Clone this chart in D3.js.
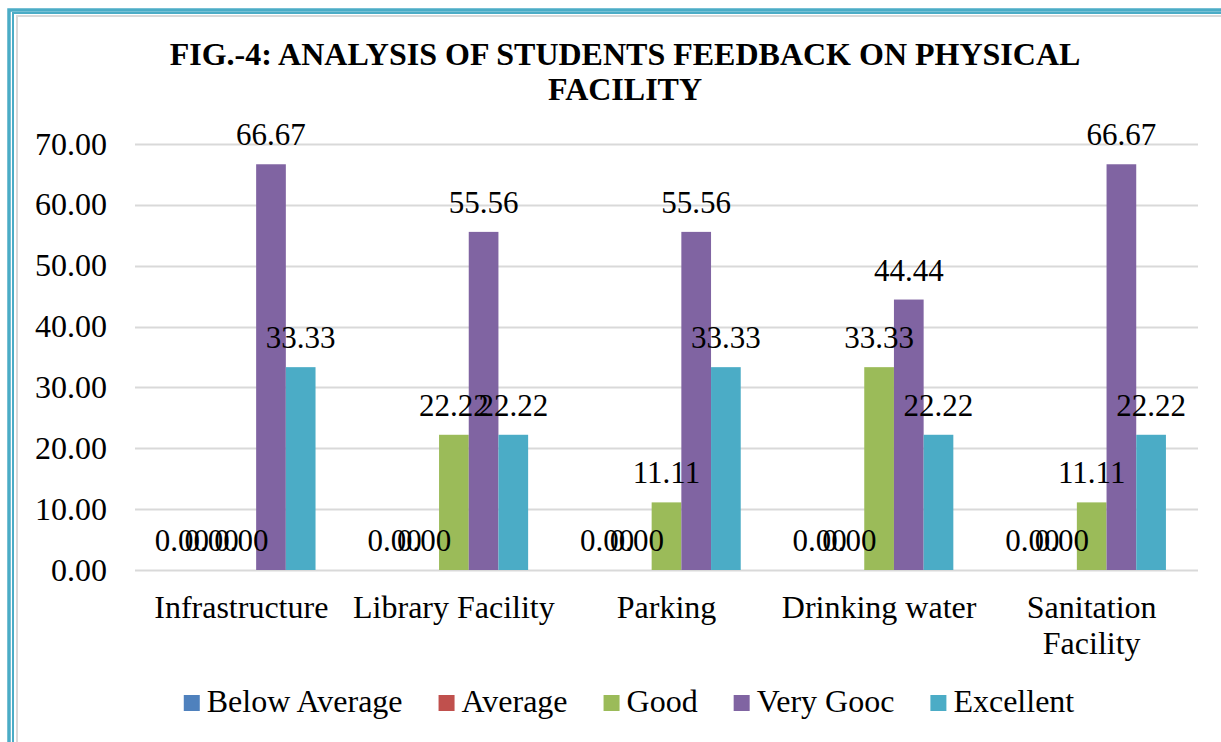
<!DOCTYPE html>
<html><head><meta charset="utf-8">
<script src="https://cdn.jsdelivr.net/npm/d3@7"></script>
<style>
html,body{margin:0;padding:0;background:#fff;overflow:hidden;}
svg{display:block;font-family:"Liberation Serif","Times New Roman",serif;}
</style></head>
<body>
<svg id="chart" width="1221" height="742"></svg>
<script>
const categories = ["Infrastructure", "Library Facility", "Parking", "Drinking water", "Sanitation Facility"];
const seriesNames = ["Below Average", "Average", "Good", "Very Gooc", "Excellent"];
const seriesColors = ["#4F81BD", "#C0504D", "#9BBB59", "#8064A2", "#4BACC6"];
const belowAverage = [0, 0, 0, 0, 0];
const average = [0, 0, 0, 0, 0];
const good = [0, 22.22, 11.11, 33.33, 11.11];
const veryGood = [66.67, 55.56, 55.56, 44.44, 66.67];
const excellent = [33.33, 22.22, 33.33, 22.22, 22.22];
const yTicks = [0, 10, 20, 30, 40, 50, 60, 70];
const titleLines = ["FIG.-4: ANALYSIS OF STUDENTS FEEDBACK ON PHYSICAL", "FACILITY"];

const seriesValues = [belowAverage, average, good, veryGood, excellent];

const svg = d3.select("#chart");
const FONT = 32;
const SERIF = "Liberation Serif, Times New Roman, serif";

// page border (double teal + light gray)
svg.append("path").attr("d","M9,760 V10 H1240").attr("fill","none").attr("stroke","#4BACC6").attr("stroke-width",3.5);
svg.append("path").attr("d","M13,760 V13 H1240").attr("fill","none").attr("stroke","#4BACC6").attr("stroke-width",2);
svg.append("path").attr("d","M17,760 V16 H1240").attr("fill","none").attr("stroke","#d9d9d9").attr("stroke-width",2);

// title
svg.append("g").selectAll("text").data(titleLines).join("text")
  .attr("x", 625).attr("y", (d,i)=> 65 + i*35)
  .attr("text-anchor","middle").attr("font-weight","bold").attr("font-size",32)
  .attr("fill","#000").text(d=>d);

const x0 = d3.scaleBand().domain(categories).range([135, 1198]).padding(0);
const x1 = d3.scaleBand().domain(seriesNames).range([0, x0.bandwidth()]).paddingInner(0).paddingOuter(1.08);
const y = d3.scaleLinear().domain([0, 70]).range([570, 144]);

// gridlines
svg.append("g").selectAll("line").data(yTicks).join("line")
  .attr("x1", 135).attr("x2", 1198)
  .attr("y1", d=>Math.round(y(d))+0.5).attr("y2", d=>Math.round(y(d))+0.5)
  .attr("stroke","#d9d9d9").attr("stroke-width",2);

// y axis labels
const yAxis = d3.axisLeft(y).tickValues(yTicks).tickFormat(d3.format(".2f")).tickSize(0).tickPadding(0);
const ya = svg.append("g").attr("transform","translate(107,0)").call(yAxis);
ya.select(".domain").remove();
ya.attr("font-family", SERIF).attr("font-size", FONT);
ya.selectAll("text").attr("font-size",FONT).attr("font-family",SERIF)
  .attr("fill","#000").attr("dy",null).attr("y",10);

// bars
const rows = categories.map((c,ci)=> seriesNames.map((s,si)=>({cat:c, ser:s, si, v:seriesValues[si][ci]})));
const groups = svg.append("g").selectAll("g").data(rows).join("g")
  .attr("transform", (d,i)=>`translate(${x0(categories[i])},0)`);
groups.selectAll("rect").data(d=>d).join("rect")
  .attr("x", d=>x1(d.ser)).attr("width", x1.bandwidth())
  .attr("y", d=>y(d.v)).attr("height", d=>y(0)-y(d.v))
  .attr("fill", d=>seriesColors[d.si]);
groups.selectAll("text").data(d=>d).join("text")
  .attr("x", d=>x1(d.ser)+x1.bandwidth()/2)
  .attr("y", d=>y(d.v)-19)
  .attr("text-anchor","middle").attr("font-size",31).attr("fill","#000")
  .text(d=>d3.format(".2f")(d.v));

// category labels
const catG = svg.append("g").selectAll("text").data(categories).join("text")
  .attr("x", d=>x0(d)+x0.bandwidth()/2).attr("y", 618)
  .attr("text-anchor","middle").attr("font-size",FONT).attr("fill","#000");
catG.each(function(d){
  const t = d3.select(this);
  const parts = d === "Sanitation Facility" ? ["Sanitation","Facility"] : [d];
  parts.forEach((p,i)=> t.append("tspan").attr("x", x0(d)+x0.bandwidth()/2).attr("dy", i===0?0:36).text(p));
});

// legend
const leg = svg.append("g");
const items = leg.selectAll("g").data(seriesNames).join("g");
items.append("rect").attr("width",16).attr("height",16).attr("y",695).attr("fill",(d,i)=>seriesColors[i]);
items.append("text").attr("x",23).attr("y",712).attr("font-size",FONT).attr("fill","#000").text(d=>d);
const widths = [];
items.each(function(){ widths.push(23 + d3.select(this).select("text").node().getComputedTextLength()); });
const gap = 36;
const total = d3.sum(widths) + gap*(widths.length-1);
let cx = 629 - total/2;
items.attr("transform",(d,i)=>{ const tx = cx; cx += widths[i] + gap; return `translate(${tx},0)`; });
</script>
</body></html>
